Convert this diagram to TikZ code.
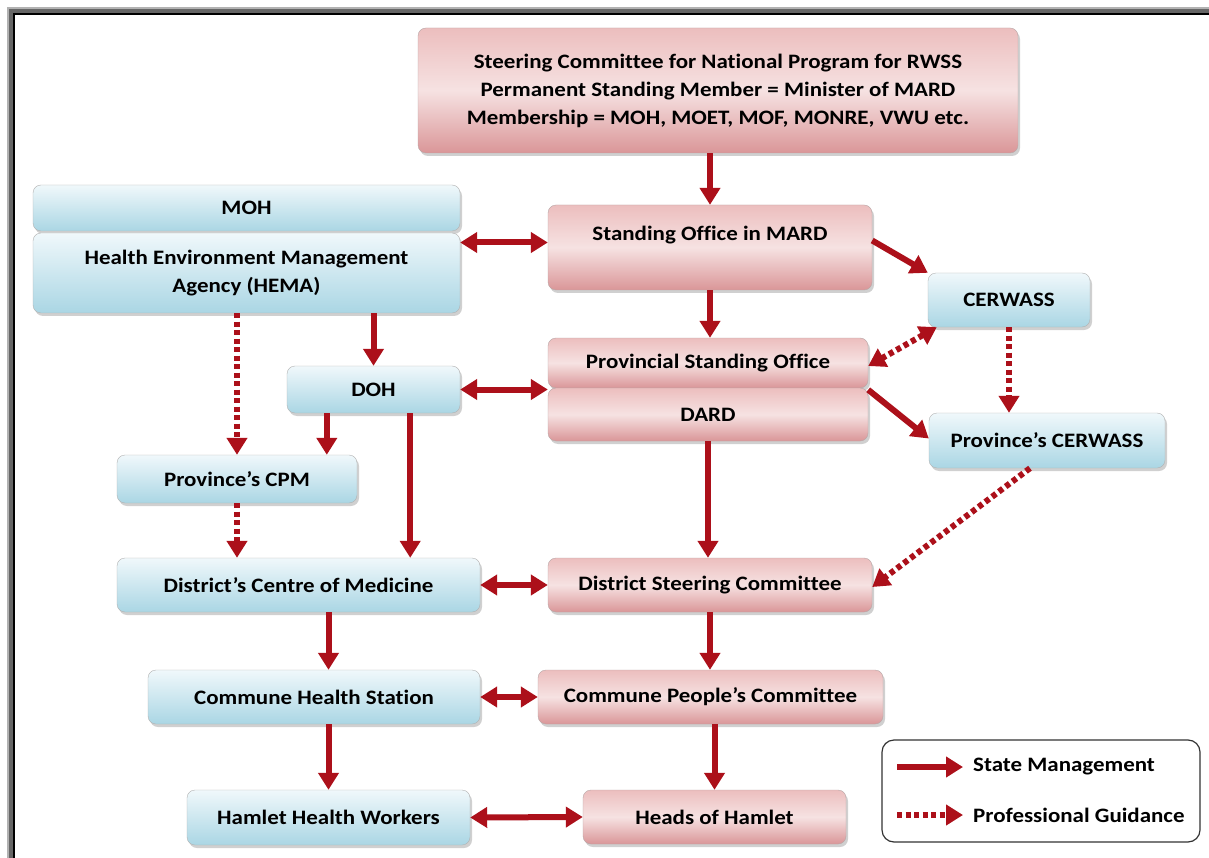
\documentclass[tikz,border=0pt]{standalone}
\usepackage{fontspec}
\setmainfont{Carlito}[FakeStretch=1.12, Ligatures=NoCommon]
\usepackage{tikz}
\usetikzlibrary{arrows.meta,shadows}

\definecolor{arrred}{RGB}{172,16,26}
\definecolor{bluetop}{RGB}{240,248,251}
\definecolor{bluebot}{RGB}{170,214,228}
\definecolor{pinktop}{RGB}{236,190,190}
\definecolor{pinkmid}{RGB}{246,226,226}
\definecolor{pinkbot}{RGB}{218,150,152}

\begin{document}
\begin{tikzpicture}[x=1pt,y=-1pt,
    box/.style={rounded corners=8pt, inner sep=0pt, align=center,
        font=\fontsize{20.5}{28}\selectfont\bfseries,
        drop shadow={shadow xshift=2pt, shadow yshift=-3pt, opacity=0.3, fill=black!60}},
    bluebox/.style={box, draw=black!30, top color=bluetop, bottom color=bluebot},
    pinkbox/.style={box, draw=red!20!black!35, top color=pinktop, bottom color=pinkbot, middle color=pinkmid},
    manage/.style={draw=arrred, line width=6pt, -{Triangle[length=17pt,width=20pt]}},
    manage2/.style={manage, {Triangle[length=17pt,width=20pt]}-{Triangle[length=17pt,width=20pt]}},
    guide/.style={manage, dash pattern=on 5pt off 3.5pt},
    guide2/.style={manage2, dash pattern=on 5pt off 3.5pt}]

            % frame
            \useasboundingbox (0,0) rectangle (1209,858);
            \fill[white] (0,0) rectangle (1209,858);
            \fill[black!30] (7,7) rectangle (1209,858);
            \fill[black!60] (9,9) rectangle (1209,858);
            \fill[black] (13,13) rectangle (1209,858);
            \fill[white] (15,15) rectangle (1209,858);

            % boxes
            \node[pinkbox, minimum width=600, minimum height=125] (top) at (718,90.5)
                {Steering Committee for National Program for RWSS\\
                 Permanent Standing Member = Minister of MARD\\
                 Membership = MOH, MOET, MOF, MONRE, VWU etc.};
            \node[bluebox, minimum width=427, minimum height=46] (moh) at (246.5,208) {MOH};
            \node[bluebox, minimum width=427, minimum height=80] (hema) at (246.5,273)
                {Health Environment Management\\Agency (HEMA)};
            \node[pinkbox, minimum width=324, minimum height=85] (som) at (710,247.5)
                {Standing Office in MARD\\\mbox{}};
            \node[pinkbox, minimum width=320, minimum height=50] (pso) at (708,363) {Provincial Standing Office};
            \node[pinkbox, minimum width=320, minimum height=53] (dard) at (708,414.5) {DARD};
            \node[bluebox, minimum width=162, minimum height=54] (cer) at (1009,300) {CERWASS};
            \node[bluebox, minimum width=236, minimum height=55] (pcer) at (1047,440.5) {Province’s CERWASS};
            \node[bluebox, minimum width=173, minimum height=47] (doh) at (373.5,389.5) {DOH};
            \node[bluebox, minimum width=240, minimum height=48] (cpm) at (237,479) {Province’s CPM};
            \node[bluebox, minimum width=363, minimum height=54] (dcm) at (298.5,585) {District’s Centre of Medicine};
            \node[pinkbox, minimum width=324, minimum height=54] (dsc) at (710,585) {District Steering Committee};
            \node[bluebox, minimum width=332, minimum height=54] (chs) at (314,697) {Commune Health Station};
            \node[pinkbox, minimum width=345, minimum height=54] (cpc) at (710.5,697) {Commune People’s Committee};
            \node[bluebox, minimum width=283, minimum height=55] (hhw) at (328.5,817.5) {Hamlet Health Workers};
            \node[pinkbox, minimum width=263, minimum height=54] (hoh) at (714.5,817) {Heads of Hamlet};

            % connectors
            \draw[manage] (top.south -| som.north) -- (som.north);
            \draw[manage2] ([yshift=5pt]hema.east |- som.west) -- ([yshift=5pt]som.west);
            \draw[manage] ([yshift=7pt]som.east) -- (cer.north west);
            \draw[manage] (som.south) -- (som.south |- pso.north);
            \draw[guide2] ([xshift=9pt]cer.south west) -- ([yshift=-3pt]pso.east);
            \draw[guide] (cer.south) -- (cer.south |- pcer.north);
            \draw[manage] ([yshift=-2pt]dard.north east) -- ([yshift=2pt]pcer.west);
            \draw[manage2] (doh.east) -- (doh.east -| pso.west);
            \draw[manage] (hema.south -| doh.north) -- (doh.north);
            \draw[guide] (hema.south -| cpm.north) -- (cpm.north);
            \draw[manage] ([xshift=40pt]doh.south west) -- ([xshift=40pt]doh.south west |- cpm.north);
            \draw[manage] ([xshift=-50pt]doh.south east) -- ([xshift=-50pt]doh.south east |- dcm.north);
            \draw[guide] (cpm.south) -- (cpm.south |- dcm.north);
            \draw[manage] (dard.south) -- (dard.south |- dsc.north);
            \draw[guide] ([xshift=-17pt]pcer.south) -- ([yshift=-2pt]dsc.east);
            \draw[manage2] (dcm.east) -- (dsc.west);
            \draw[manage] (dcm.south -| hhw.north) -- (chs.north -| hhw.north);
            \draw[manage] (dsc.south) -- (dsc.south |- cpc.north);
            \draw[manage2] (chs.east) -- (cpc.west);
            \draw[manage] (chs.south -| hhw.north) -- (hhw.north);
            \draw[manage] (cpc.south -| hoh.north) -- (hoh.north);
            \draw[manage2] (hhw.east) -- (hoh.west);

            % legend
            \node[draw=black!80, line width=1.2pt, fill=white, rounded corners=12pt,
                minimum width=318, minimum height=102] (legend) at (1041,791) {};
            \node[anchor=west, inner sep=0pt, font=\fontsize{20.5}{28}\selectfont\bfseries] (lsm) at (973,767) {State Management};
            \node[anchor=west, inner sep=0pt, font=\fontsize{20.5}{28}\selectfont\bfseries] (lpg) at (973,815) {Professional Guidance};
            \coordinate (lsa) at (897,767);
            \coordinate (lpa) at (897,815);
            \draw[manage] (lsa) -- ([xshift=-10pt]lsm.west);
            \draw[guide] (lpa) -- ([xshift=-10pt]lpg.west);
        \end{tikzpicture}
\end{document}
